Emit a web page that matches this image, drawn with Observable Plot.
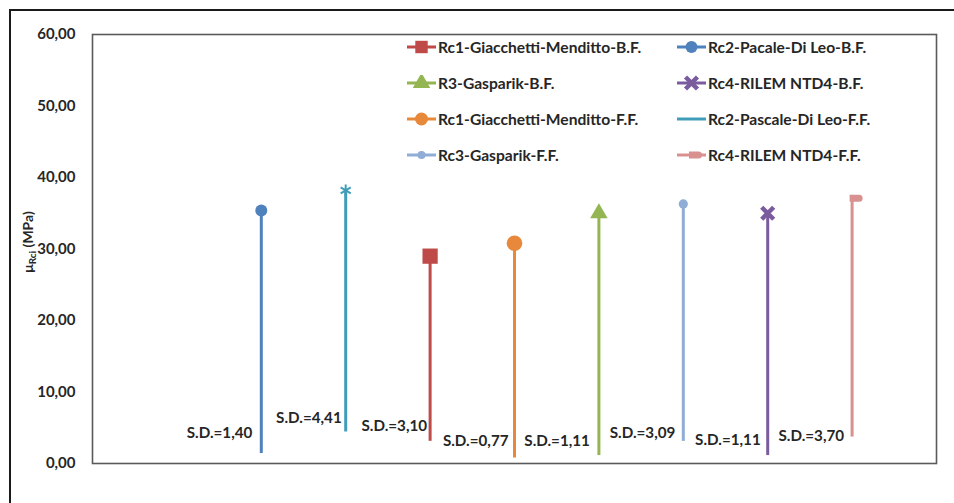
<!DOCTYPE html>
<html><head><meta charset="utf-8">
<script src="https://cdn.jsdelivr.net/npm/d3@7"></script>
<script src="https://cdn.jsdelivr.net/npm/@observablehq/plot@0.6"></script>
<style>
html,body{margin:0;padding:0;background:#fff;}
#wrap{position:relative;width:954px;height:503px;overflow:hidden;font-family:Lato,"Liberation Sans",sans-serif;}
#outer{position:absolute;left:9px;top:9px;width:980px;height:540px;border:2px solid #1a1a1a;box-sizing:border-box;}
#chart{position:absolute;left:0;top:0;}
#ytitle{position:absolute;left:28px;top:242px;transform:translate(-50%,-50%) rotate(-90deg);font-weight:700;font-size:14px;white-space:nowrap;color:#262626;}
#ytitle sub{font-size:10px;vertical-align:-3px;}
.leg{position:absolute;display:flex;align-items:center;font-size:15.6px;font-weight:700;color:#262626;white-space:nowrap;height:16px;}
.leg svg{margin-right:2px;}
</style></head><body>
<div id="wrap"><div id="outer"></div><div id="chart"></div><div id="ytitle">μ<sub>Rci</sub> (MPa)</div><div id="legend"></div></div>
<script>
// ---- data ----
const series = ["Rc2-Pacale-Di Leo-B.F.", "Rc2-Pascale-Di Leo-F.F.", "Rc1-Giacchetti-Menditto-B.F.", "Rc1-Giacchetti-Menditto-F.F.", "R3-Gasparik-B.F.", "Rc3-Gasparik-F.F.", "Rc4-RILEM NTD4-B.F.", "Rc4-RILEM NTD4-F.F."];
const slots = [2, 3, 4, 5, 6, 7, 8, 9];
const means = [35.4, 38.2, 29.0, 30.8, 35.0, 36.3, 35.0, 37.1];
const sds = [1.40, 4.41, 3.10, 0.77, 1.11, 3.09, 1.11, 3.70];
const sdLabels = ["S.D.=1,40", "S.D.=4,41", "S.D.=3,10", "S.D.=0,77", "S.D.=1,11", "S.D.=3,09", "S.D.=1,11", "S.D.=3,70"];
const legendOrder = ["Rc1-Giacchetti-Menditto-B.F.", "Rc2-Pacale-Di Leo-B.F.", "R3-Gasparik-B.F.", "Rc4-RILEM NTD4-B.F.", "Rc1-Giacchetti-Menditto-F.F.", "Rc2-Pascale-Di Leo-F.F.", "Rc3-Gasparik-F.F.", "Rc4-RILEM NTD4-F.F."];
const yTicks = [0, 10, 20, 30, 40, 50, 60];

// ---- styles ----
const colors = ["#4F81BD", "#3F9DB9", "#BE4B48", "#E8883A", "#93B552", "#8FADD5", "#7A5C9E", "#D8918F"];
const dash = {draw(ctx){ ctx.moveTo(-2.5,-3.5); ctx.lineTo(7,-3.5); ctx.arc(7,0,3.5,-Math.PI/2,Math.PI/2); ctx.lineTo(-2.5,3.5); ctx.closePath(); }};
const markers = [
  {symbol:"circle", d3s:d3.symbolCircle, r:6, filled:true},
  {symbol:"asterisk", d3s:null, r:5.5, filled:false, sw:2},
  {symbol:"square", d3s:d3.symbolSquare, r:8.6, filled:true, lr:7},
  {symbol:"circle", d3s:d3.symbolCircle, r:7.8, filled:true, lr:6.5},
  {symbol:"triangle", d3s:d3.symbolTriangle, r:6.5, filled:true},
  {symbol:"circle", d3s:d3.symbolCircle, r:4.6, filled:true, lr:4},
  {symbol:"times", d3s:d3.symbolTimes, r:5.5, filled:false, sw:4.5},
  {symbol:dash, d3s:dash, r:4, filled:true}
];
const labelLift = [2.8, 2.0, 2.1, 2.3, 2.0, 1.2, 2.1, 0.1];
const labelGap = [-9, -4, -3, -6, -9, -8, -7, -8];

const data = series.map((s, i) => ({name:s, slot:slots[i], mean:means[i], sd:sds[i], label:sdLabels[i], color:colors[i]}));

const marks = [
  Plot.frame({stroke:"#5a5a5a", strokeWidth:1.6}),
  Plot.axisY({ticks:yTicks, tickSize:0, tickPadding:17, tickFormat:d => d3.format(".2f")(d).replace(".", ","), label:null, fontSize:15, fontWeight:700, fill:"#262626"}),
  Plot.ruleX(data, {x:"slot", y1:"sd", y2:"mean", stroke:"color", strokeWidth:3})
];
data.forEach((d, i) => {
  const m = markers[i];
  marks.push(Plot.dot([d], {x:"slot", y:"mean", symbol:m.symbol, r:m.r,
    fill: m.filled ? d.color : "none", stroke: m.filled ? "none" : d.color, strokeWidth: m.sw || 1}));
  marks.push(Plot.text([d], {x:"slot", y: e => e.sd + labelLift[i], text:"label", textAnchor:"end", dx:labelGap[i],
    fontSize:15.2, fontWeight:700, fill:"#262626"}));
});

const chart = Plot.plot({
  width:954, height:503, marginLeft:92, marginRight:18, marginTop:34, marginBottom:40,
  x:{domain:[0, 10], axis:null},
  y:{domain:[0, 60]},
  color:{type:"identity"},
  style:{fontFamily:"Lato, 'Liberation Sans', sans-serif", background:"transparent", overflow:"visible"},
  marks
});
document.getElementById("chart").append(chart);

// ---- legend (HTML overlay inside plot area) ----
const legCols = [407, 677];
const legRows = [47, 83, 119, 155];
const legendEl = document.getElementById("legend");
legendOrder.forEach((name, k) => {
  const i = series.indexOf(name);
  const m = markers[i];
  const col = k % 2, row = Math.floor(k / 2);
  const div = document.createElement("div");
  div.className = "leg";
  div.style.left = legCols[col] + "px";
  div.style.top = (legRows[row] - 8) + "px";
  const svg = d3.create("svg").attr("width", 29).attr("height", 16);
  svg.append("line").attr("x1", 0).attr("x2", 29).attr("y1", 8).attr("y2", 8).attr("stroke", colors[i]).attr("stroke-width", 3);
  if (m.d3s) {
    const r = m.lr || m.r;
    const p = svg.append("path").attr("transform", "translate(14.5,8)")
      .attr("d", d3.symbol(m.d3s, Math.PI * r * r)());
    if (m.filled) p.attr("fill", colors[i]); else p.attr("fill", "none").attr("stroke", colors[i]).attr("stroke-width", m.sw);
  }
  div.append(svg.node());
  const span = document.createElement("span");
  span.textContent = name;
  div.append(span);
  legendEl.append(div);
});
</script>
</body></html>
